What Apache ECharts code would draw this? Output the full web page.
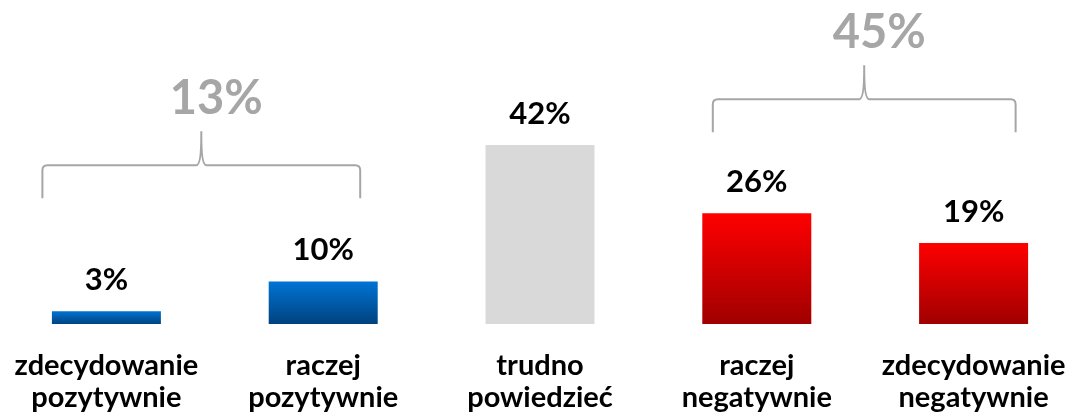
<!DOCTYPE html>
<html>
<head>
<meta charset="utf-8">
<script src="https://cdn.jsdelivr.net/npm/echarts@6/dist/echarts.min.js"></script>
<style>
  html, body { margin: 0; padding: 0; background: #fff; }
  #chart { width: 1074px; height: 419px; }
</style>
</head>
<body>
<div id="chart"></div>
<script>
const categories = [
    'zdecydowanie\npozytywnie',
    'raczej\npozytywnie',
    'trudno\npowiedzieć',
    'raczej\nnegatywnie',
    'zdecydowanie\nnegatywnie'
]
const values = [3, 10, 42, 26, 19]
const barKinds = ['pos', 'pos', 'neutral', 'neg', 'neg']

// group braces: first and last category index, total, level of the brace feet
const groupFrom = [0, 3]
const groupTo = [1, 4]
const groupTotals = ['13%', '45%']
const groupFeet = [29.5, 45]

const FONT = 'Lato'
const GREY = '#a6a6a6'
// how far each brace reaches past its outer bar centres (px)
const bracePadLeft = [64, 44]
const bracePadRight = [37, 42]

const fills = {
    pos: new echarts.graphic.LinearGradient(0, 0, 0, 1, [
        { offset: 0, color: '#0074d4' },
        { offset: 1, color: '#00427f' }
    ]),
    neg: new echarts.graphic.LinearGradient(0, 0, 0, 1, [
        { offset: 0, color: '#ff0000' },
        { offset: 1, color: '#a00000' }
    ]),
    neutral: '#d9d9d9'
}

// Brace outline over a group of bars
function bracePath(x1, x2, xm, yFoot, yBar, yTip, r) {
    return [
        'M', x1, yFoot,
        'L', x1, yBar + r,
        'Q', x1, yBar, x1 + r, yBar,
        'L', xm - r, yBar,
        'Q', xm, yBar, xm, yTip + 4,
        'L', xm, yTip,
        'M', xm, yTip + 4,
        'Q', xm, yBar, xm + r, yBar,
        'L', x2 - r, yBar,
        'Q', x2, yBar, x2, yBar + r,
        'L', x2, yFoot
    ].join(' ')
}

function renderBrace(params, api) {
    const i = params.dataIndex
    const a = api.coord([api.value(0), 0])
    const b = api.coord([api.value(1), 0])
    const yFoot = api.coord([0, api.value(2)])[1]
    const x1 = a[0] - bracePadLeft[i]
    const x2 = b[0] + bracePadRight[i]
    const xm = (x1 + x2) / 2
    const yBar = yFoot - 33
    const yTip = yBar - 34
    return {
        type: 'group',
        children: [{
            type: 'path',
            shape: { pathData: bracePath(x1, x2, xm, yFoot, yBar, yTip, 5) },
            style: { fill: null, stroke: GREY, lineWidth: 2 }
        }, {
            type: 'text',
            x: xm + 15,
            y: yTip - 9,
            style: {
                text: groupTotals[i],
                fill: GREY,
                font: 'bold 47px ' + FONT,
                align: 'center',
                verticalAlign: 'bottom'
            }
        }]
    }
}

const chartInstance = echarts.init(document.getElementById('chart'))

const option = {
    animation: false,
    grid: { left: -2, width: 1084, top: 111, height: 213, outerBoundsMode: 'none', containLabel: false },
    xAxis: {
        type: 'category',
        data: categories,
        axisLine: { show: false },
        axisTick: { show: false },
        axisLabel: {
            margin: 26,
            interval: 0,
            fontFamily: FONT,
            fontWeight: 'bold',
            fontSize: 29,
            lineHeight: 32,
            color: '#000'
        }
    },
    yAxis: {
        type: 'value',
        min: 0,
        max: 50,
        show: false,
        splitLine: { show: false }
    },
    series: [{
        type: 'bar',
        barWidth: 109,
        data: values.map((v, i) => ({
            value: v,
            itemStyle: { color: fills[barKinds[i]] }
        })),
        label: {
            show: true,
            position: 'top',
            distance: 16,
            formatter: p => p.value + '%',
            fontFamily: FONT,
            fontWeight: 'bold',
            fontSize: 31,
            color: '#000'
        }
    }, {
        type: 'custom',
        renderItem: renderBrace,
        clip: false,
        silent: true,
        data: groupFrom.map((f, i) => [f, groupTo[i], groupFeet[i]])
    }]
}

chartInstance.setOption(option)
</script>
</body>
</html>
